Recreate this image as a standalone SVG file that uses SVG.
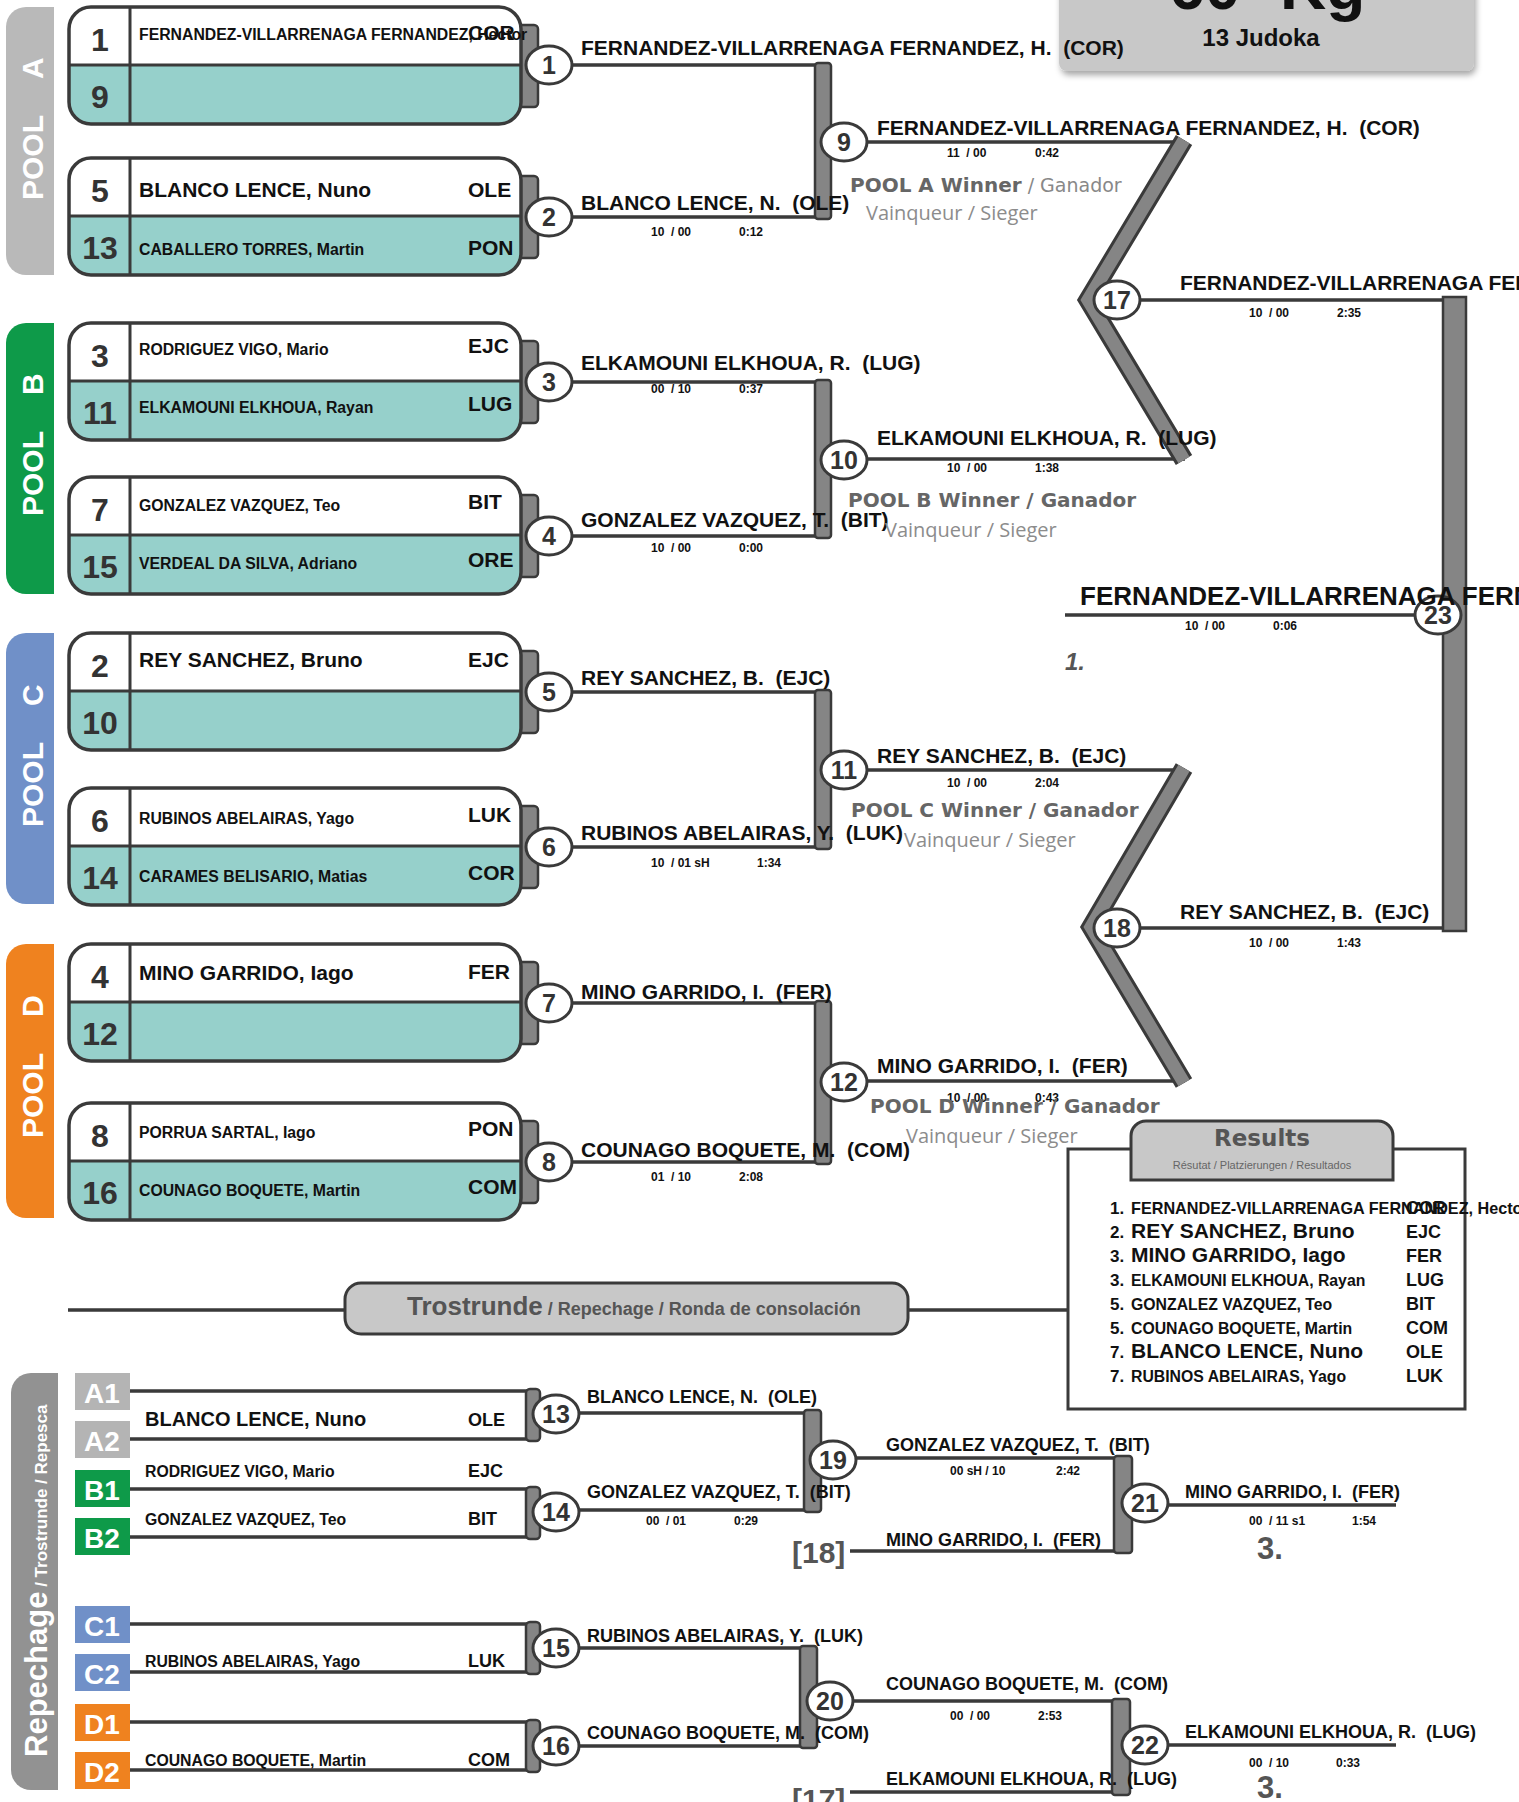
<svg xmlns="http://www.w3.org/2000/svg" xmlns:xlink="http://www.w3.org/1999/xlink" width="1519" height="1802" viewBox="0 0 1519 1802">
<style>
text{font-family:"Liberation Sans",Arial,sans-serif;font-weight:bold;fill:#111}
.num{font-size:32px;text-anchor:middle;fill:#333}
.nl{font-size:21px}
.ns{font-size:15.8px}
.cl{font-size:21px}
.br{font-size:21px}
.rb{font-size:18px}
.sc{font-size:12px}
.cn{font-size:25px;text-anchor:middle;fill:#333}
.pool{font-size:30px;fill:#fff}
.win{font-family:"DejaVu Sans",sans-serif;font-size:20px;fill:#666}
.win .lt{font-weight:normal;fill:#888;font-size:19px}
.vs{font-family:"Open Sans",sans-serif;font-weight:normal;font-size:20px;fill:#8c8c8c}
.gr{fill:#555}
.ln{stroke:#3a3a3a;stroke-width:3.5;fill:none}
.bar{fill:#858585;stroke:#3a3a3a;stroke-width:2.5}
.circ{fill:#fff;stroke:#3a3a3a;stroke-width:3}
.sq{font-size:28px;fill:#fff;text-anchor:middle}
.rn{font-size:17px}
.rc{font-size:18px}
</style>
<defs>
<filter id="sh" x="-10%" y="-30%" width="120%" height="160%"><feDropShadow dx="2" dy="4" stdDeviation="3" flood-color="#000" flood-opacity="0.35"/></filter>
<g id="box">
<rect x="440" y="18" width="29" height="82" rx="4" class="bar"/>
<rect x="0" y="0" width="452" height="117" rx="22" fill="#96d0cb"/>
<path d="M0,58 V22 A22,22 0 0 1 22,0 H430 A22,22 0 0 1 452,22 V58 Z" fill="#fff"/>
<path d="M0,58 H452 M61,0 V117" stroke="#3a3a3a" stroke-width="3"/>
<rect x="0" y="0" width="452" height="117" rx="22" fill="none" stroke="#3a3a3a" stroke-width="3.5"/>
</g>
<g id="rbox">
<rect x="0" y="0" width="400" height="48" fill="#fff"/>
<path d="M0,0 H400 M0,48 H400" class="ln"/>
<rect x="396" y="-2" width="14" height="52" rx="4" class="bar"/>
</g>
<ellipse id="c" cx="0" cy="0" rx="23" ry="19" class="circ"/>
</defs>
<rect width="1519" height="1802" fill="#fff"/>

<!-- title -->
<g id="title">
<rect x="1059" y="-20" width="415" height="91" rx="8" fill="#c8c8c8" filter="url(#sh)"/>
<text x="1148" y="9" style="font-size:64px">-60</text>
<text x="1280" y="9" style="font-size:64px">Kg</text>
<text x="1261" y="46" style="font-size:24px;text-anchor:middle">13 Judoka</text>
</g>

<!-- pools sidebars -->
<g id="pool-a"><path d="M54,7 H26 A20,20 0 0 0 6,27 V255 A20,20 0 0 0 26,275 H54 Z" fill="#b9b9b9"/>
<text class="pool" transform="translate(43,200) rotate(-90)">POOL<tspan x="121">A</tspan></text></g>
<g id="pool-b"><path d="M54,323 H26 A20,20 0 0 0 6,343 V574 A20,20 0 0 0 26,594 H54 Z" fill="#0e9a49"/>
<text class="pool" transform="translate(43,516) rotate(-90)">POOL<tspan x="121">B</tspan></text></g>
<g id="pool-c"><path d="M54,633 H26 A20,20 0 0 0 6,653 V884 A20,20 0 0 0 26,904 H54 Z" fill="#7090c8"/>
<text class="pool" transform="translate(43,827) rotate(-90)">POOL<tspan x="121">C</tspan></text></g>
<g id="pool-d"><path d="M54,944 H26 A20,20 0 0 0 6,964 V1198 A20,20 0 0 0 26,1218 H54 Z" fill="#ef821f"/>
<text class="pool" transform="translate(43,1138) rotate(-90)">POOL<tspan x="121">D</tspan></text></g>

<!-- entry boxes -->
<g id="entry-1-9"><use href="#box" x="69" y="7"/>
<text class="num" x="100" y="51">1</text><text class="num" x="100" y="108">9</text>
<text class="ns" x="139" y="40">FERNANDEZ-VILLARRENAGA FERNANDEZ, Hector</text><text class="cl" x="468" y="40">COR</text></g>
<g id="entry-5-13"><use href="#box" x="69" y="158"/>
<text class="num" x="100" y="202">5</text><text class="num" x="100" y="259">13</text>
<text class="nl" x="139" y="197">BLANCO LENCE, Nuno</text><text class="cl" x="468" y="197">OLE</text>
<text class="ns" x="139" y="255">CABALLERO TORRES, Martin</text><text class="cl" x="468" y="255">PON</text></g>
<g id="entry-3-11"><use href="#box" x="69" y="323"/>
<text class="num" x="100" y="367">3</text><text class="num" x="100" y="424">11</text>
<text class="ns" x="139" y="355">RODRIGUEZ VIGO, Mario</text><text class="cl" x="468" y="353">EJC</text>
<text class="ns" x="139" y="413">ELKAMOUNI ELKHOUA, Rayan</text><text class="cl" x="468" y="411">LUG</text></g>
<g id="entry-7-15"><use href="#box" x="69" y="477"/>
<text class="num" x="100" y="521">7</text><text class="num" x="100" y="578">15</text>
<text class="ns" x="139" y="511">GONZALEZ VAZQUEZ, Teo</text><text class="cl" x="468" y="509">BIT</text>
<text class="ns" x="139" y="569">VERDEAL DA SILVA, Adriano</text><text class="cl" x="468" y="567">ORE</text></g>
<g id="entry-2-10"><use href="#box" x="69" y="633"/>
<text class="num" x="100" y="677">2</text><text class="num" x="100" y="734">10</text>
<text class="nl" x="139" y="667">REY SANCHEZ, Bruno</text><text class="cl" x="468" y="667">EJC</text></g>
<g id="entry-6-14"><use href="#box" x="69" y="788"/>
<text class="num" x="100" y="832">6</text><text class="num" x="100" y="889">14</text>
<text class="ns" x="139" y="824">RUBINOS ABELAIRAS, Yago</text><text class="cl" x="468" y="822">LUK</text>
<text class="ns" x="139" y="882">CARAMES BELISARIO, Matias</text><text class="cl" x="468" y="880">COR</text></g>
<g id="entry-4-12"><use href="#box" x="69" y="944"/>
<text class="num" x="100" y="988">4</text><text class="num" x="100" y="1045">12</text>
<text class="nl" x="139" y="980">MINO GARRIDO, Iago</text><text class="cl" x="468" y="979">FER</text></g>
<g id="entry-8-16"><use href="#box" x="69" y="1103"/>
<text class="num" x="100" y="1147">8</text><text class="num" x="100" y="1204">16</text>
<text class="ns" x="139" y="1138">PORRUA SARTAL, Iago</text><text class="cl" x="468" y="1136">PON</text>
<text class="ns" x="139" y="1196">COUNAGO BOQUETE, Martin</text><text class="cl" x="468" y="1194">COM</text></g>

<!-- repechage sidebar and seeds -->
<g id="repechage-side"><path d="M58,1373 H31 A20,20 0 0 0 11,1393 V1770 A20,20 0 0 0 31,1790 H58 Z" fill="#929292"/>
<text transform="translate(47,1757) rotate(-90)" style="fill:#fff;font-size:31px">Repechage<tspan style="font-size:17px"> / Trostrunde / Repesca</tspan></text></g>
<g id="seeds">
<rect x="75" y="1373" width="55" height="37" fill="#b4b4b4"/><text class="sq" x="102" y="1403">A1</text>
<rect x="75" y="1421" width="55" height="37" fill="#b4b4b4"/><text class="sq" x="102" y="1451">A2</text>
<rect x="75" y="1470" width="55" height="37" fill="#0e9a49"/><text class="sq" x="102" y="1500">B1</text>
<rect x="75" y="1518" width="55" height="37" fill="#0e9a49"/><text class="sq" x="102" y="1548">B2</text>
<rect x="75" y="1606" width="55" height="37" fill="#7090c8"/><text class="sq" x="102" y="1636">C1</text>
<rect x="75" y="1654" width="55" height="37" fill="#7090c8"/><text class="sq" x="102" y="1684">C2</text>
<rect x="75" y="1704" width="55" height="37" fill="#ef821f"/><text class="sq" x="102" y="1734">D1</text>
<rect x="75" y="1752" width="55" height="37" fill="#ef821f"/><text class="sq" x="102" y="1782">D2</text>
</g>
<g id="rep-13"><use href="#rbox" x="130" y="1391"/>
<text style="font-size:20px" x="145" y="1426">BLANCO LENCE, Nuno</text><text class="rc" x="468" y="1426">OLE</text></g>
<g id="rep-14"><use href="#rbox" x="130" y="1489"/>
<text class="ns" x="145" y="1477">RODRIGUEZ VIGO, Mario</text><text class="rc" x="468" y="1477">EJC</text>
<text class="ns" x="145" y="1525">GONZALEZ VAZQUEZ, Teo</text><text class="rc" x="468" y="1525">BIT</text></g>
<g id="rep-15"><use href="#rbox" x="130" y="1624"/>
<text class="ns" x="145" y="1667">RUBINOS ABELAIRAS, Yago</text><text class="rc" x="468" y="1667">LUK</text></g>
<g id="rep-16"><use href="#rbox" x="130" y="1722"/>
<text class="ns" x="145" y="1766">COUNAGO BOQUETE, Martin</text><text class="rc" x="468" y="1766">COM</text></g>

<!-- connectors -->
<g id="connectors">
<path class="ln" d="M560,65 H823 M560,217 H823 M560,382 H823 M560,536 H823 M560,692 H823 M560,847 H823 M560,1003 H823 M560,1162 H823"/>
<rect class="bar" x="815" y="63" width="16" height="156" rx="3"/>
<rect class="bar" x="815" y="380" width="16" height="158" rx="3"/>
<rect class="bar" x="815" y="690" width="16" height="159" rx="3"/>
<rect class="bar" x="815" y="1001" width="16" height="163" rx="3"/>
<path class="ln" d="M855,142 H1185 M855,459 H1185 M855,770 H1185 M855,1081 H1185"/>
<polyline points="1184,140 1088,300 1184,460" fill="none" stroke="#3a3a3a" stroke-width="19" stroke-linejoin="miter"/>
<polyline points="1184,140 1088,300 1184,460" fill="none" stroke="#858585" stroke-width="13" stroke-linejoin="miter"/>
<polyline points="1184,768 1091,927 1184,1083" fill="none" stroke="#3a3a3a" stroke-width="19" stroke-linejoin="miter"/>
<polyline points="1184,768 1091,927 1184,1083" fill="none" stroke="#858585" stroke-width="13" stroke-linejoin="miter"/>
<path class="ln" d="M1125,300 H1454 M1125,928 H1454 M1065,615 H1443"/>
<rect class="bar" x="1443" y="297" width="23" height="634" stroke-width="3"/>
<path class="ln" d="M68,1310 H345 M908,1310 H1068"/>
<path class="ln" d="M570,1413 H812 M570,1510 H812"/>
<rect class="bar" x="804" y="1410" width="17" height="102" rx="3"/>
<path class="ln" d="M845,1458 H1122 M850,1551 H1122"/>
<rect class="bar" x="1114" y="1456" width="18" height="97" rx="3"/>
<path class="ln" d="M1155,1505 H1396"/>
<path class="ln" d="M570,1648 H808 M570,1746 H808"/>
<rect class="bar" x="800" y="1646" width="17" height="102" rx="3"/>
<path class="ln" d="M840,1701 H1120 M850,1792 H1120"/>
<rect class="bar" x="1112" y="1699" width="18" height="96" rx="3"/>
<path class="ln" d="M1155,1745 H1396"/>
</g>

<!-- match circles -->
<g id="m1"><use href="#c" x="549" y="65"/><text class="cn" x="549" y="74">1</text></g>
<g id="m2"><use href="#c" x="549" y="217"/><text class="cn" x="549" y="226">2</text></g>
<g id="m3"><use href="#c" x="549" y="382"/><text class="cn" x="549" y="391">3</text></g>
<g id="m4"><use href="#c" x="549" y="536"/><text class="cn" x="549" y="545">4</text></g>
<g id="m5"><use href="#c" x="549" y="692"/><text class="cn" x="549" y="701">5</text></g>
<g id="m6"><use href="#c" x="549" y="847"/><text class="cn" x="549" y="856">6</text></g>
<g id="m7"><use href="#c" x="549" y="1003"/><text class="cn" x="549" y="1012">7</text></g>
<g id="m8"><use href="#c" x="549" y="1162"/><text class="cn" x="549" y="1171">8</text></g>
<g id="m9"><use href="#c" x="844" y="142"/><text class="cn" x="844" y="151">9</text></g>
<g id="m10"><use href="#c" x="844" y="460"/><text class="cn" x="844" y="469">10</text></g>
<g id="m11"><use href="#c" x="844" y="770"/><text class="cn" x="844" y="779">11</text></g>
<g id="m12"><use href="#c" x="844" y="1082"/><text class="cn" x="844" y="1091">12</text></g>
<g id="m17"><use href="#c" x="1117" y="300"/><text class="cn" x="1117" y="309">17</text></g>
<g id="m18"><use href="#c" x="1117" y="928"/><text class="cn" x="1117" y="937">18</text></g>
<g id="m23"><use href="#c" x="1438" y="615"/><text class="cn" x="1438" y="624">23</text></g>
<g id="m13"><use href="#c" x="556" y="1414"/><text class="cn" x="556" y="1423">13</text></g>
<g id="m14"><use href="#c" x="556" y="1512"/><text class="cn" x="556" y="1521">14</text></g>
<g id="m15"><use href="#c" x="556" y="1648"/><text class="cn" x="556" y="1657">15</text></g>
<g id="m16"><use href="#c" x="556" y="1746"/><text class="cn" x="556" y="1755">16</text></g>
<g id="m19"><use href="#c" x="833" y="1460"/><text class="cn" x="833" y="1469">19</text></g>
<g id="m20"><use href="#c" x="830" y="1701"/><text class="cn" x="830" y="1710">20</text></g>
<g id="m21"><use href="#c" x="1145" y="1503"/><text class="cn" x="1145" y="1512">21</text></g>
<g id="m22"><use href="#c" x="1145" y="1745"/><text class="cn" x="1145" y="1754">22</text></g>

<!-- bracket labels -->
<g id="labels">
<text class="br" x="581" y="55">FERNANDEZ-VILLARRENAGA FERNANDEZ, H.&#160; (COR)</text>
<text class="br" x="581" y="210">BLANCO LENCE, N.&#160; (OLE)</text>
<text class="sc" x="651" y="236">10&#160; / 00</text><text class="sc" x="739" y="236">0:12</text>
<text class="br" x="581" y="370">ELKAMOUNI ELKHOUA, R.&#160; (LUG)</text>
<text class="sc" x="651" y="393">00&#160; / 10</text><text class="sc" x="739" y="393">0:37</text>
<text class="br" x="581" y="527">GONZALEZ VAZQUEZ, T.&#160; (BIT)</text>
<text class="sc" x="651" y="552">10&#160; / 00</text><text class="sc" x="739" y="552">0:00</text>
<text class="br" x="581" y="685">REY SANCHEZ, B.&#160; (EJC)</text>
<text class="br" x="581" y="840">RUBINOS ABELAIRAS, Y.&#160; (LUK)</text>
<text class="sc" x="651" y="867">10&#160; / 01 sH</text><text class="sc" x="757" y="867">1:34</text>
<text class="br" x="581" y="999">MINO GARRIDO, I.&#160; (FER)</text>
<text class="br" x="581" y="1157">COUNAGO BOQUETE, M.&#160; (COM)</text>
<text class="sc" x="651" y="1181">01&#160; / 10</text><text class="sc" x="739" y="1181">2:08</text>

<text class="br" x="877" y="135">FERNANDEZ-VILLARRENAGA FERNANDEZ, H.&#160; (COR)</text>
<text class="sc" x="947" y="157">11&#160; / 00</text><text class="sc" x="1035" y="157">0:42</text>
<text class="br" x="877" y="445">ELKAMOUNI ELKHOUA, R.&#160; (LUG)</text>
<text class="sc" x="947" y="472">10&#160; / 00</text><text class="sc" x="1035" y="472">1:38</text>
<text class="br" x="877" y="763">REY SANCHEZ, B.&#160; (EJC)</text>
<text class="sc" x="947" y="787">10&#160; / 00</text><text class="sc" x="1035" y="787">2:04</text>
<text class="br" x="877" y="1073">MINO GARRIDO, I.&#160; (FER)</text>
<text class="sc" x="947" y="1102">10&#160; / 00</text><text class="sc" x="1035" y="1102">0:43</text>

<text class="win" x="850" y="192">POOL A Winner<tspan class="lt"> / Ganador</tspan></text>
<text class="vs" x="866" y="220">Vainqueur / Sieger</text>
<text class="win" x="848" y="507">POOL B Winner / Ganador</text>
<text class="vs" x="885" y="537">Vainqueur / Sieger</text>
<text class="win" x="851" y="817">POOL C Winner / Ganador</text>
<text class="vs" x="904" y="847">Vainqueur / Sieger</text>
<text class="win" x="870" y="1113">POOL D Winner / Ganador</text>
<text class="vs" x="906" y="1143">Vainqueur / Sieger</text>

<text class="br" x="1180" y="290">FERNANDEZ-VILLARRENAGA FERNANDEZ, H.&#160; (COR)</text>
<text class="sc" x="1249" y="317">10&#160; / 00</text><text class="sc" x="1337" y="317">2:35</text>
<text class="br" x="1180" y="919">REY SANCHEZ, B.&#160; (EJC)</text>
<text class="sc" x="1249" y="947">10&#160; / 00</text><text class="sc" x="1337" y="947">1:43</text>
<text style="font-size:26px" x="1080" y="605">FERNANDEZ-VILLARRENAGA FERNANDEZ, H.&#160; (COR)</text>
<text class="sc" x="1185" y="630">10&#160; / 00</text><text class="sc" x="1273" y="630">0:06</text>
<text class="gr" style="font-size:24px;font-style:italic" x="1065" y="670">1.</text>

<text class="rb" x="587" y="1403">BLANCO LENCE, N.&#160; (OLE)</text>
<text class="rb" x="587" y="1498">GONZALEZ VAZQUEZ, T.&#160; (BIT)</text>
<text class="sc" x="646" y="1525">00&#160; / 01</text><text class="sc" x="734" y="1525">0:29</text>
<text class="rb" x="587" y="1642">RUBINOS ABELAIRAS, Y.&#160; (LUK)</text>
<text class="rb" x="587" y="1739">COUNAGO BOQUETE, M.&#160; (COM)</text>
<text class="rb" x="886" y="1451">GONZALEZ VAZQUEZ, T.&#160; (BIT)</text>
<text class="sc" x="950" y="1475">00 sH / 10</text><text class="sc" x="1056" y="1475">2:42</text>
<text class="rb" x="886" y="1546">MINO GARRIDO, I.&#160; (FER)</text>
<text class="gr" style="font-size:30px" x="792" y="1563">[18]</text>
<text class="rb" x="886" y="1690">COUNAGO BOQUETE, M.&#160; (COM)</text>
<text class="sc" x="950" y="1720">00&#160; / 00</text><text class="sc" x="1038" y="1720">2:53</text>
<text class="rb" x="886" y="1785">ELKAMOUNI ELKHOUA, R.&#160; (LUG)</text>
<text class="gr" style="font-size:30px" x="792" y="1810">[17]</text>
<text class="rb" x="1185" y="1498">MINO GARRIDO, I.&#160; (FER)</text>
<text class="sc" x="1249" y="1525">00&#160; / 11 s1</text><text class="sc" x="1352" y="1525">1:54</text>
<text class="gr" style="font-size:31px" x="1257" y="1559">3.</text>
<text class="rb" x="1185" y="1738">ELKAMOUNI ELKHOUA, R.&#160; (LUG)</text>
<text class="sc" x="1249" y="1767">00&#160; / 10</text><text class="sc" x="1336" y="1767">0:33</text>
<text class="gr" style="font-size:31px" x="1257" y="1798">3.</text>
</g>

<!-- repechage header -->
<g id="repechage-header">
<rect x="345" y="1283" width="563" height="51" rx="16" fill="#c8c8c8" stroke="#3a3a3a" stroke-width="3"/>
<text class="gr" x="407" y="1315" style="font-size:26px">Trostrunde<tspan style="font-size:18px"> / Repechage / Ronda de consolación</tspan></text>
</g>

<!-- results -->
<g id="results">
<rect x="1068" y="1149" width="397" height="260" fill="#fff" stroke="#3a3a3a" stroke-width="3"/>
<path d="M1131,1180 V1136 A15,15 0 0 1 1146,1121 H1378 A15,15 0 0 1 1393,1136 V1180 Z" fill="#c8c8c8" stroke="#3a3a3a" stroke-width="3"/>
<text x="1262" y="1146" style="font-family:'DejaVu Sans',sans-serif;font-size:23px;fill:#555;text-anchor:middle">Results</text>
<text x="1262" y="1169" style="font-weight:normal;font-size:11px;fill:#666;text-anchor:middle">Résutat / Platzierungen / Resultados</text>
<text class="rn" x="1110" y="1214">1.</text><text style="font-size:16.2px" x="1131" y="1214">FERNANDEZ-VILLARRENAGA FERNANDEZ, Hector</text><text class="rc" x="1406" y="1214">COR</text>
<text class="rn" x="1110" y="1238">2.</text><text class="nl" x="1131" y="1238">REY SANCHEZ, Bruno</text><text class="rc" x="1406" y="1238">EJC</text>
<text class="rn" x="1110" y="1262">3.</text><text class="nl" x="1131" y="1262">MINO GARRIDO, Iago</text><text class="rc" x="1406" y="1262">FER</text>
<text class="rn" x="1110" y="1286">3.</text><text class="ns" x="1131" y="1286">ELKAMOUNI ELKHOUA, Rayan</text><text class="rc" x="1406" y="1286">LUG</text>
<text class="rn" x="1110" y="1310">5.</text><text class="ns" x="1131" y="1310">GONZALEZ VAZQUEZ, Teo</text><text class="rc" x="1406" y="1310">BIT</text>
<text class="rn" x="1110" y="1334">5.</text><text class="ns" x="1131" y="1334">COUNAGO BOQUETE, Martin</text><text class="rc" x="1406" y="1334">COM</text>
<text class="rn" x="1110" y="1358">7.</text><text class="nl" x="1131" y="1358">BLANCO LENCE, Nuno</text><text class="rc" x="1406" y="1358">OLE</text>
<text class="rn" x="1110" y="1382">7.</text><text class="ns" x="1131" y="1382">RUBINOS ABELAIRAS, Yago</text><text class="rc" x="1406" y="1382">LUK</text>
</g>
</svg>
